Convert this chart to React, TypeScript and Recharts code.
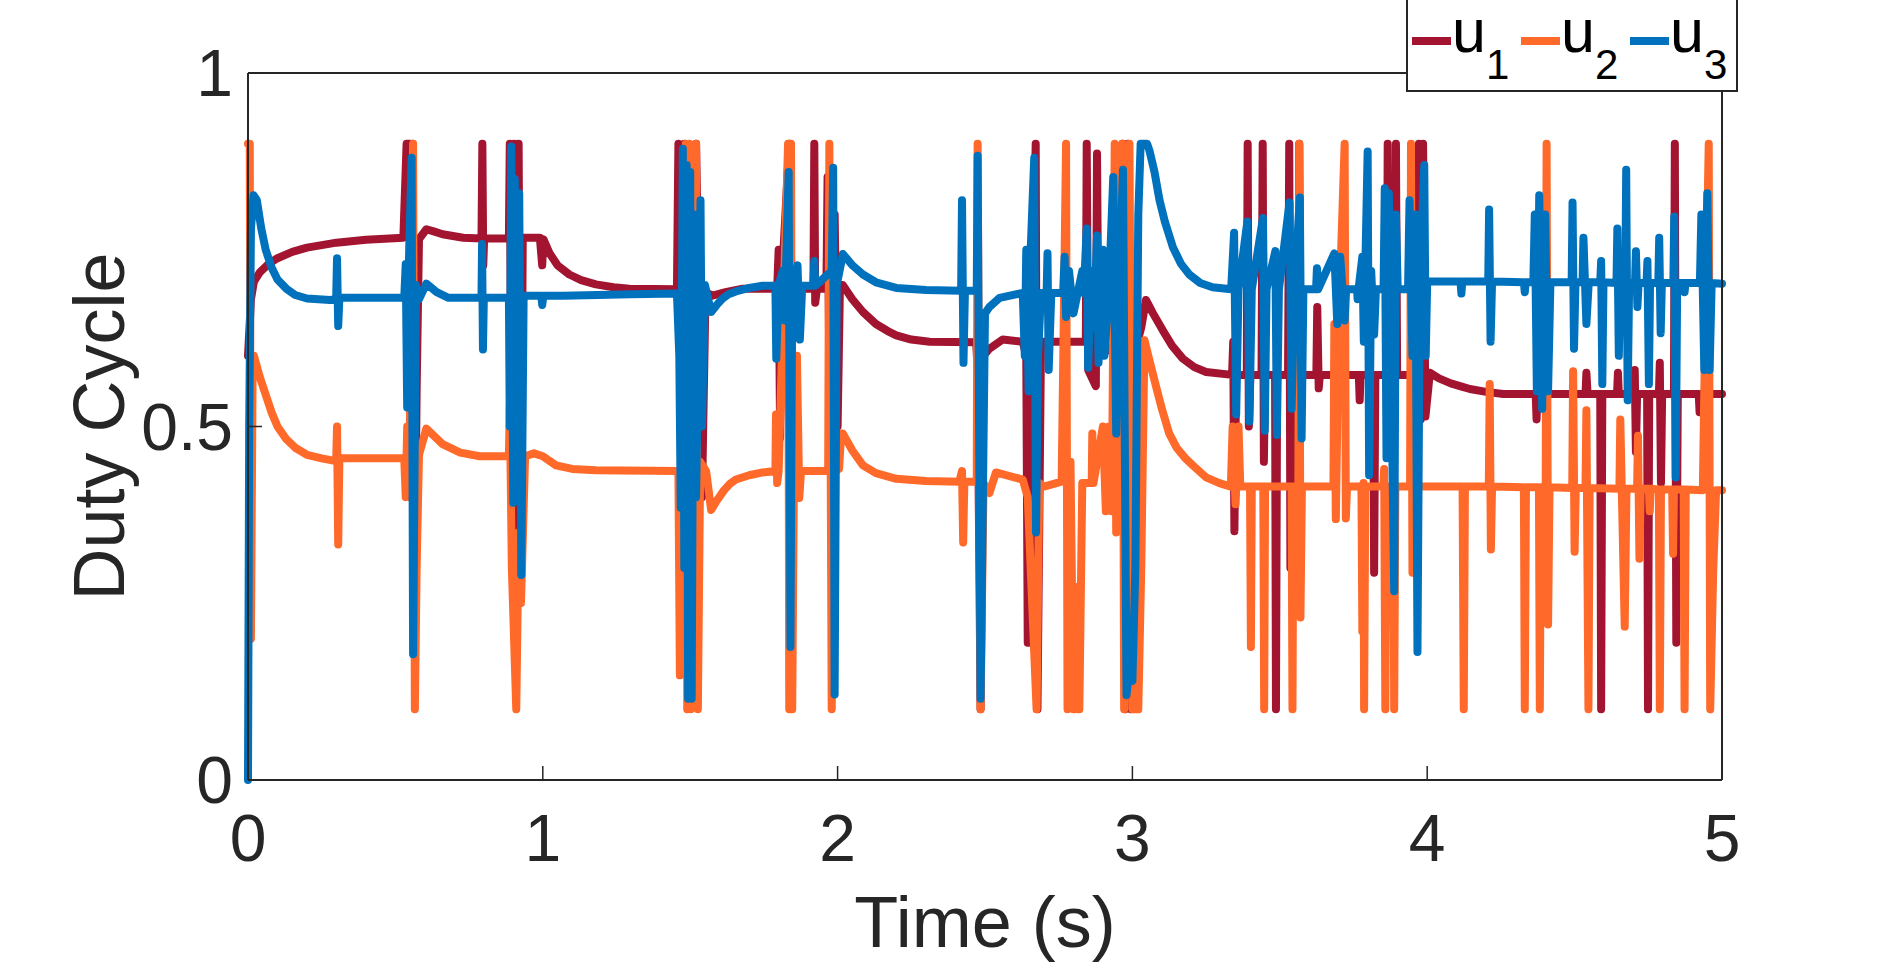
import { LineChart, Line, XAxis, YAxis, Legend, Label } from "recharts";

// time (s) / duty cycle pairs
const u1Points: [number, number][] = [
  [0, 0.6], [0.01, 0.68], [0.02, 0.705], [0.04, 0.718], [0.07, 0.73], [0.1, 0.738], [0.15, 0.747], [0.2, 0.753], [0.3, 0.76], [0.4, 0.764], [0.527, 0.767],
  [0.538, 0.9], [0.548, 0.9], [0.552, 0.4], [0.558, 0.9], [0.565, 0.26], [0.572, 0.55], [0.58, 0.765],
  [0.605, 0.779], [0.63, 0.776], [0.66, 0.772], [0.73, 0.767], [0.792, 0.766], [0.795, 0.9], [0.798, 0.728], [0.801, 0.766],
  [0.885, 0.766], [0.888, 0.9], [0.894, 0.45], [0.902, 0.9], [0.91, 0.254], [0.918, 0.9], [0.925, 0.3], [0.932, 0.767],
  [0.99, 0.767], [0.998, 0.728], [1.002, 0.765], [1.023, 0.745], [1.05, 0.728], [1.09, 0.715], [1.13, 0.707], [1.18, 0.701], [1.24, 0.697], [1.294, 0.695], [1.455, 0.694],
  [1.46, 0.9], [1.47, 0.55], [1.48, 0.9], [1.5, 0.2], [1.52, 0.9], [1.54, 0.4], [1.552, 0.69],
  [1.576, 0.685], [1.62, 0.69], [1.678, 0.695], [1.795, 0.695], [1.8, 0.75], [1.805, 0.484], [1.81, 0.7], [1.836, 0.9], [1.84, 0.4], [1.846, 0.695],
  [1.918, 0.695], [1.921, 0.9], [1.924, 0.675], [1.93, 0.695], [1.962, 0.695], [1.966, 0.853], [1.975, 0.445], [1.99, 0.8], [2.0, 0.5], [2.008, 0.7],
  [2.018, 0.7], [2.05, 0.68], [2.086, 0.662], [2.13, 0.645], [2.17, 0.635], [2.199, 0.629], [2.25, 0.623], [2.312, 0.62], [2.47, 0.619],
  [2.475, 0.58], [2.485, 0.1], [2.495, 0.6], [2.515, 0.61], [2.56, 0.623], [2.628, 0.62],
  [2.64, 0.6], [2.645, 0.194], [2.655, 0.55], [2.672, 0.9], [2.678, 0.1], [2.69, 0.62], [2.768, 0.62], [2.771, 0.497], [2.775, 0.62],
  [2.842, 0.62], [2.845, 0.9], [2.85, 0.58], [2.876, 0.557], [2.88, 0.886], [2.885, 0.6], [2.962, 0.62], [2.966, 0.9], [2.975, 0.1], [2.985, 0.9], [2.995, 0.1], [3.005, 0.6], [3.03, 0.64],
  [3.046, 0.679], [3.07, 0.66], [3.103, 0.636], [3.135, 0.614], [3.171, 0.596], [3.21, 0.584], [3.25, 0.577], [3.338, 0.573],
  [3.342, 0.62], [3.346, 0.352], [3.352, 0.573], [3.388, 0.573], [3.391, 0.9], [3.395, 0.5], [3.4, 0.573],
  [3.438, 0.573], [3.442, 0.9], [3.446, 0.45], [3.45, 0.573], [3.484, 0.573], [3.487, 0.1], [3.491, 0.573], [3.528, 0.573], [3.532, 0.9], [3.536, 0.3], [3.54, 0.573],
  [3.563, 0.573], [3.566, 0.9], [3.57, 0.573], [3.624, 0.573], [3.627, 0.669], [3.632, 0.554], [3.636, 0.573], [3.768, 0.573], [3.771, 0.537], [3.774, 0.573],
  [3.817, 0.573], [3.82, 0.293], [3.824, 0.573], [3.863, 0.573], [3.866, 0.9], [3.87, 0.5], [3.874, 0.573], [3.891, 0.573], [3.894, 0.9], [3.898, 0.573],
  [3.968, 0.573], [3.972, 0.9], [3.978, 0.51], [3.986, 0.9], [3.994, 0.514], [4.009, 0.576], [4.04, 0.568], [4.08, 0.561], [4.12, 0.556], [4.145, 0.553], [4.2, 0.549], [4.258, 0.546],
  [4.368, 0.546], [4.371, 0.51], [4.374, 0.546], [4.537, 0.546], [4.54, 0.576], [4.544, 0.546], [4.587, 0.546], [4.59, 0.1], [4.594, 0.546],
  [4.644, 0.546], [4.647, 0.576], [4.65, 0.546], [4.701, 0.546], [4.704, 0.58], [4.708, 0.464], [4.712, 0.546], [4.746, 0.546], [4.749, 0.1], [4.753, 0.546],
  [4.786, 0.546], [4.789, 0.59], [4.793, 0.42], [4.797, 0.546], [4.837, 0.546], [4.84, 0.9], [4.845, 0.194], [4.85, 0.546], [4.921, 0.546], [4.924, 0.52], [4.928, 0.546], [5.0, 0.546],
];

const u2Points: [number, number][] = [
  [0, 0.9], [0.006, 0.9], [0.01, 0.2], [0.016, 0.6], [0.02, 0.6], [0.04, 0.57], [0.06, 0.545], [0.08, 0.52], [0.1, 0.5], [0.13, 0.482], [0.16, 0.47], [0.2, 0.46], [0.25, 0.455], [0.299, 0.451],
  [0.302, 0.5], [0.306, 0.333], [0.31, 0.455], [0.53, 0.455],
  [0.535, 0.4], [0.54, 0.5], [0.548, 0.45], [0.56, 0.9], [0.566, 0.1], [0.572, 0.3], [0.58, 0.46], [0.605, 0.497], [0.63, 0.487], [0.66, 0.475], [0.72, 0.463], [0.786, 0.458], [0.885, 0.458],
  [0.888, 0.53], [0.895, 0.3], [0.91, 0.1], [0.918, 0.35], [0.926, 0.25], [0.94, 0.458], [0.97, 0.462], [1.0, 0.458], [1.045, 0.445], [1.1, 0.44], [1.18, 0.438], [1.455, 0.437],
  [1.46, 0.437], [1.465, 0.148], [1.47, 0.4], [1.485, 0.9], [1.49, 0.1], [1.497, 0.9], [1.502, 0.1], [1.52, 0.9], [1.526, 0.1], [1.534, 0.45], [1.554, 0.437],
  [1.571, 0.382], [1.59, 0.395], [1.615, 0.41], [1.635, 0.419], [1.655, 0.425], [1.7, 0.431], [1.746, 0.435], [1.789, 0.437],
  [1.791, 0.517], [1.795, 0.42], [1.8, 0.437], [1.832, 0.9], [1.836, 0.1], [1.842, 0.9], [1.846, 0.1], [1.852, 0.437], [1.862, 0.6], [1.87, 0.399], [1.876, 0.437],
  [1.968, 0.437], [1.972, 0.9], [1.98, 0.1], [1.99, 0.437], [2.005, 0.44], [2.012, 0.49], [2.018, 0.49], [2.05, 0.466], [2.086, 0.445], [2.13, 0.434], [2.199, 0.426], [2.3, 0.423], [2.413, 0.422],
  [2.422, 0.437], [2.426, 0.336], [2.43, 0.422], [2.472, 0.422], [2.475, 0.9], [2.485, 0.1], [2.495, 0.42], [2.515, 0.406], [2.537, 0.435], [2.628, 0.425],
  [2.645, 0.4], [2.675, 0.1], [2.684, 0.42], [2.7, 0.415], [2.76, 0.422], [2.775, 0.9], [2.78, 0.1], [2.79, 0.45], [2.8, 0.1], [2.81, 0.273], [2.82, 0.1], [2.83, 0.42],
  [2.862, 0.42], [2.864, 0.49], [2.868, 0.42], [2.9, 0.5], [2.91, 0.38], [2.92, 0.5], [2.93, 0.38], [2.94, 0.9], [2.945, 0.35], [2.955, 0.45],
  [2.966, 0.9], [2.972, 0.1], [2.99, 0.9], [3.0, 0.1], [3.02, 0.1], [3.03, 0.3],
  [3.041, 0.622], [3.06, 0.59], [3.08, 0.557], [3.1, 0.525], [3.125, 0.49], [3.15, 0.47], [3.18, 0.455], [3.205, 0.445], [3.25, 0.428], [3.295, 0.42], [3.334, 0.415],
  [3.34, 0.5], [3.35, 0.39], [3.36, 0.5], [3.366, 0.415], [3.399, 0.415], [3.402, 0.188], [3.405, 0.415], [3.444, 0.415], [3.447, 0.1], [3.45, 0.415],
  [3.54, 0.415], [3.543, 0.1], [3.546, 0.415], [3.563, 0.415], [3.566, 0.9], [3.57, 0.23], [3.575, 0.415], [3.682, 0.415], [3.685, 0.645], [3.69, 0.369], [3.7, 0.645], [3.72, 0.9], [3.724, 0.37], [3.728, 0.415],
  [3.777, 0.415], [3.78, 0.21], [3.784, 0.42], [3.786, 0.1], [3.79, 0.415], [3.851, 0.415], [3.854, 0.44], [3.858, 0.1], [3.862, 0.415], [3.885, 0.415], [3.888, 0.1], [3.892, 0.415],
  [3.942, 0.415], [3.945, 0.9], [3.95, 0.293], [3.955, 0.415],
  [4.12, 0.415], [4.124, 0.1], [4.128, 0.415], [4.209, 0.415], [4.212, 0.56], [4.216, 0.326], [4.22, 0.415], [4.328, 0.414], [4.331, 0.1], [4.335, 0.414],
  [4.379, 0.414], [4.382, 0.1], [4.386, 0.414], [4.402, 0.414], [4.405, 0.9], [4.41, 0.22], [4.415, 0.414], [4.492, 0.413], [4.495, 0.578], [4.5, 0.323], [4.504, 0.413],
  [4.537, 0.413], [4.54, 0.523], [4.547, 0.1], [4.551, 0.413], [4.652, 0.412], [4.655, 0.51], [4.67, 0.217], [4.676, 0.412], [4.712, 0.412], [4.715, 0.487], [4.72, 0.313], [4.724, 0.412],
  [4.752, 0.412], [4.755, 0.38], [4.758, 0.412], [4.786, 0.411], [4.789, 0.1], [4.793, 0.411], [4.831, 0.411], [4.834, 0.32], [4.837, 0.411], [4.87, 0.411], [4.873, 0.1], [4.877, 0.411],
  [4.935, 0.41], [4.94, 0.55], [4.955, 0.9], [4.96, 0.1], [4.97, 0.293], [4.98, 0.41], [5.0, 0.41],
];

const u3Points: [number, number][] = [
  [0, 0], [0.004, 0.5], [0.01, 0.78], [0.019, 0.827], [0.03, 0.82], [0.045, 0.78], [0.06, 0.75], [0.08, 0.725], [0.1, 0.708], [0.13, 0.695], [0.16, 0.686], [0.2, 0.681], [0.278, 0.679], [0.299, 0.68],
  [0.302, 0.738], [0.306, 0.642], [0.31, 0.682], [0.53, 0.682],
  [0.535, 0.73], [0.54, 0.527], [0.545, 0.72], [0.555, 0.88], [0.56, 0.178], [0.57, 0.7], [0.58, 0.68], [0.605, 0.702], [0.64, 0.69], [0.68, 0.682], [0.792, 0.682], [0.794, 0.758], [0.797, 0.609], [0.8, 0.682], [0.885, 0.682],
  [0.888, 0.5], [0.893, 0.896], [0.9, 0.392], [0.905, 0.85], [0.915, 0.4], [0.92, 0.83], [0.927, 0.29], [0.935, 0.685], [0.995, 0.685], [0.998, 0.672], [1.002, 0.685], [1.068, 0.685], [1.3, 0.687], [1.455, 0.688],
  [1.463, 0.6], [1.468, 0.385], [1.475, 0.893], [1.48, 0.3], [1.488, 0.87], [1.493, 0.115], [1.5, 0.86], [1.505, 0.115], [1.512, 0.8], [1.52, 0.4], [1.535, 0.82], [1.54, 0.5], [1.55, 0.7],
  [1.571, 0.662], [1.59, 0.672], [1.61, 0.681], [1.63, 0.687], [1.655, 0.691], [1.7, 0.696], [1.746, 0.699], [1.789, 0.699],
  [1.792, 0.596], [1.8, 0.7], [1.814, 0.72], [1.82, 0.65], [1.834, 0.86], [1.84, 0.188], [1.846, 0.699], [1.864, 0.728], [1.872, 0.623], [1.88, 0.699],
  [1.918, 0.699], [1.921, 0.734], [1.924, 0.699], [1.98, 0.72], [1.985, 0.866], [1.99, 0.121], [1.997, 0.7], [2.018, 0.744], [2.05, 0.728], [2.086, 0.715], [2.13, 0.704], [2.199, 0.696], [2.3, 0.693], [2.419, 0.692],
  [2.422, 0.82], [2.427, 0.59], [2.432, 0.692], [2.472, 0.692], [2.475, 0.883], [2.485, 0.115], [2.5, 0.66], [2.515, 0.669], [2.55, 0.682], [2.628, 0.689],
  [2.635, 0.6], [2.64, 0.75], [2.648, 0.55], [2.655, 0.75], [2.667, 0.88], [2.673, 0.35], [2.68, 0.6], [2.69, 0.689], [2.709, 0.689], [2.712, 0.745], [2.716, 0.58], [2.725, 0.689],
  [2.765, 0.689], [2.77, 0.74], [2.775, 0.655], [2.785, 0.72], [2.8, 0.66], [2.83, 0.72], [2.835, 0.689],
  [2.845, 0.78], [2.85, 0.583], [2.86, 0.72], [2.87, 0.64], [2.88, 0.77], [2.885, 0.59], [2.9, 0.75], [2.905, 0.6], [2.92, 0.689], [2.935, 0.853], [2.945, 0.49], [2.955, 0.7],
  [2.968, 0.863], [2.98, 0.12], [2.99, 0.16], [3.0, 0.14], [3.01, 0.3], [3.02, 0.8], [3.028, 0.9], [3.05, 0.9],
  [3.058, 0.89], [3.075, 0.86], [3.092, 0.82], [3.11, 0.79], [3.137, 0.754], [3.165, 0.73], [3.193, 0.715], [3.23, 0.703], [3.272, 0.697], [3.335, 0.694],
  [3.345, 0.774], [3.352, 0.517], [3.36, 0.694], [3.39, 0.79], [3.397, 0.507], [3.405, 0.694], [3.443, 0.795], [3.449, 0.494], [3.455, 0.694], [3.485, 0.748], [3.49, 0.488], [3.497, 0.694],
  [3.533, 0.817], [3.54, 0.525], [3.55, 0.694], [3.568, 0.824], [3.574, 0.483], [3.58, 0.694], [3.623, 0.694], [3.626, 0.724], [3.63, 0.694],
  [3.685, 0.745], [3.695, 0.645], [3.705, 0.74], [3.72, 0.65], [3.725, 0.694], [3.762, 0.694], [3.764, 0.68], [3.767, 0.694], [3.78, 0.74], [3.785, 0.62], [3.798, 0.889], [3.803, 0.431], [3.81, 0.72], [3.82, 0.63], [3.826, 0.694],
  [3.852, 0.694], [3.856, 0.837], [3.862, 0.455], [3.87, 0.83], [3.888, 0.267], [3.894, 0.8], [3.9, 0.694], [3.935, 0.694],
  [3.94, 0.82], [3.95, 0.6], [3.96, 0.8], [3.967, 0.181], [3.975, 0.7], [3.99, 0.87], [3.995, 0.6], [4.0, 0.705], [4.113, 0.705], [4.116, 0.688], [4.119, 0.705],
  [4.207, 0.705], [4.21, 0.807], [4.215, 0.62], [4.22, 0.705], [4.328, 0.704], [4.331, 0.69], [4.334, 0.704], [4.36, 0.704],
  [4.365, 0.8], [4.372, 0.55], [4.38, 0.827], [4.39, 0.525], [4.4, 0.8], [4.41, 0.55], [4.418, 0.704], [4.49, 0.704], [4.493, 0.817], [4.498, 0.61], [4.503, 0.704],
  [4.527, 0.704], [4.53, 0.767], [4.54, 0.645], [4.548, 0.704], [4.587, 0.704], [4.59, 0.734], [4.594, 0.56], [4.598, 0.704], [4.642, 0.703], [4.645, 0.78], [4.65, 0.6], [4.655, 0.703],
  [4.672, 0.703], [4.675, 0.863], [4.68, 0.537], [4.685, 0.703], [4.705, 0.703], [4.708, 0.748], [4.713, 0.669], [4.717, 0.703], [4.744, 0.703], [4.747, 0.734], [4.752, 0.56], [4.756, 0.703],
  [4.784, 0.703], [4.787, 0.767], [4.792, 0.632], [4.796, 0.703], [4.835, 0.703], [4.838, 0.797], [4.843, 0.428], [4.848, 0.703], [4.87, 0.703], [4.873, 0.69], [4.876, 0.703], [4.925, 0.703],
  [4.93, 0.8], [4.94, 0.58], [4.95, 0.83], [4.958, 0.58], [4.965, 0.703], [5.0, 0.702],
];

const xTicks = [0, 1, 2, 3, 4, 5];
const yTicks = [0, 0.5, 1];
const seriesNames = ["u1", "u2", "u3"];
const seriesColors = ["#A2142F", "#FF6929", "#0072BD"];
const seriesPoints = [u1Points, u2Points, u3Points];

const FONT = '"Liberation Sans", Arial, Helvetica, sans-serif';
const AXIS = "#262626";

const toRows = (pts: [number, number][]) => pts.map(([t, v]) => ({ t, v }));

function LegendBox(props: any) {
  const items = [...(props.payload || [])].sort((a: any, b: any) => String(a.value).localeCompare(String(b.value)));
  return (
    <svg width={332} height={112} style={{ display: "block" }}>
      <rect x={1} y={1} width={330} height={110} fill="#fff" stroke={AXIS} strokeWidth={2} />
      {items.map((entry: any, i: number) => {
        const x0 = 6 + i * 109;
        const name = String(entry.value);
        return (
          <g key={name}>
            <line x1={x0} x2={x0 + 39} y1={61} y2={61} stroke={entry.color} strokeWidth={8} />
            <text x={x0 + 40} y={72} fontFamily={FONT} fontSize={61} fill="#000">
              {name.charAt(0)}
              <tspan fontSize={42} dy={27}>{name.slice(1)}</tspan>
            </text>
          </g>
        );
      })}
    </svg>
  );
}

function YTitle(props: any) {
  const vb = props.viewBox || { x: 247, y: 73, width: 1, height: 707 };
  const x = vb.x + vb.width - 124;
  const y = vb.y + vb.height / 2;
  return (
    <text x={x} y={y} transform={`rotate(-90 ${x} ${y})`} textAnchor="middle" fontSize={72} fontFamily={FONT} fill={AXIS}>
      Duty Cycle
    </text>
  );
}

function XTitle(props: any) {
  const vb = props.viewBox || { x: 248, y: 780, width: 1474, height: 1 };
  return (
    <text x={vb.x + vb.width / 2} y={vb.y + 167} textAnchor="middle" fontSize={72} fontFamily={FONT} fill={AXIS}>
      Time (s)
    </text>
  );
}

export default function App() {
  const tickStyle = { fill: AXIS, fontSize: 66, fontFamily: FONT };
  const lineStyle = { stroke: AXIS, strokeWidth: 2 };
  const tickLineStyle = { stroke: AXIS, strokeWidth: 1.5 };
  return (
    <div style={{ position: "absolute", left: 0, top: 0, width: 1904, height: 964, background: "#fff" }}>
      <LineChart width={1904} height={964} margin={{ top: 72, right: 181, bottom: 183, left: 247 }}>
        <XAxis
          dataKey="t"
          type="number"
          domain={[0, 5]}
          ticks={xTicks}
          interval={0}
          height={1}
          tickSize={-14}
          tickMargin={48}
          tick={tickStyle}
          axisLine={lineStyle}
          tickLine={tickLineStyle}
        >
          <Label content={XTitle} />
        </XAxis>
        <XAxis
          xAxisId="top"
          orientation="top"
          dataKey="t"
          type="number"
          domain={[0, 5]}
          ticks={xTicks}
          interval={0}
          height={1}
          tickSize={-14}
          tickFormatter={() => ""}
          axisLine={lineStyle}
          tickLine={tickLineStyle}
        />
        <YAxis
          type="number"
          domain={[0, 1]}
          ticks={yTicks}
          interval={0}
          width={1}
          tickSize={-14}
          tickMargin={29}
          tick={tickStyle}
          axisLine={lineStyle}
          tickLine={tickLineStyle}
        >
          <Label content={YTitle} />
        </YAxis>
        <YAxis
          yAxisId="right"
          orientation="right"
          type="number"
          domain={[0, 1]}
          ticks={yTicks}
          interval={0}
          width={1}
          tickSize={-14}
          tickFormatter={() => ""}
          axisLine={lineStyle}
          tickLine={tickLineStyle}
        />
        <Legend
          layout="horizontal"
          verticalAlign="middle"
          align="center"
          wrapperStyle={{ left: 1406, top: -20, width: 332, height: 112 }}
          content={LegendBox}
        />
        {seriesNames.map((name, i) => (
          <Line
            key={name}
            name={name}
            data={toRows(seriesPoints[i])}
            dataKey="v"
            type="linear"
            stroke={seriesColors[i]}
            strokeWidth={8}
            strokeLinejoin="round"
            strokeLinecap="round"
            dot={false}
            activeDot={false}
            isAnimationActive={false}
            legendType="line"
          />
        ))}
      </LineChart>
    </div>
  );
}
